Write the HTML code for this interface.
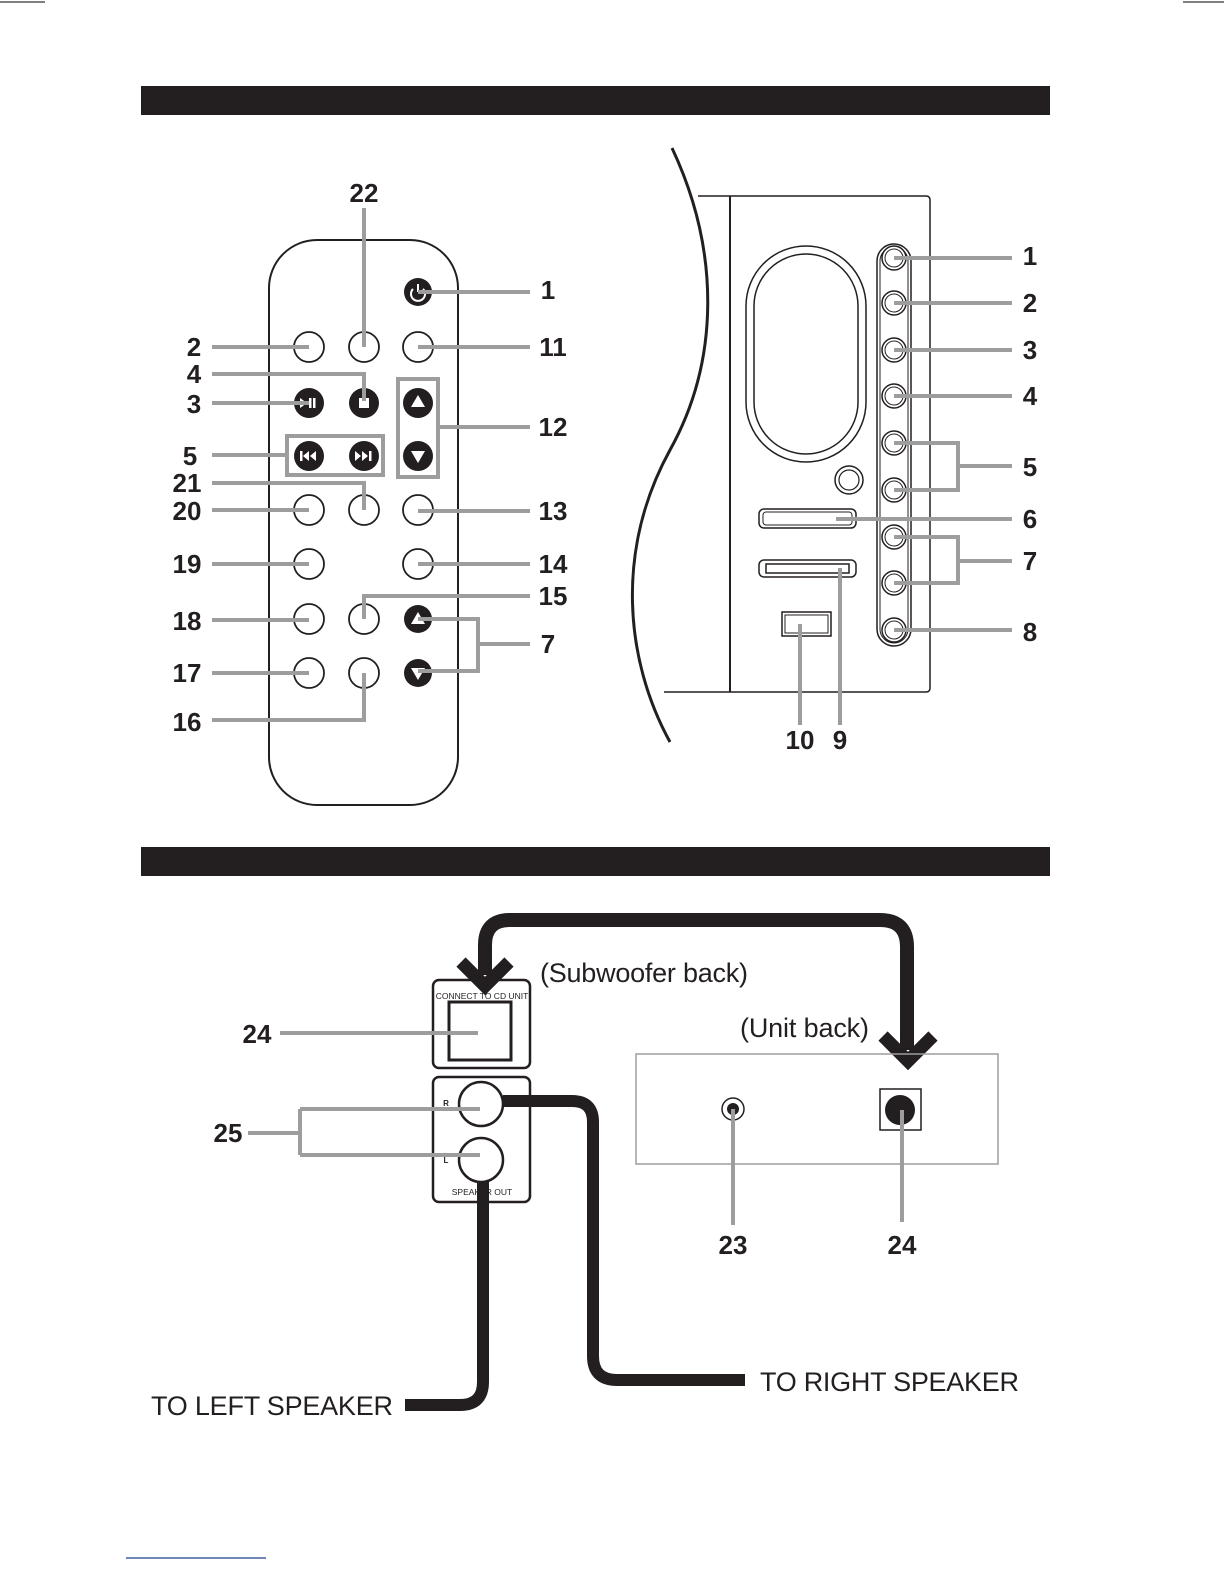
<!DOCTYPE html>
<html><head><meta charset="utf-8"><style>
html,body{margin:0;padding:0;background:#fff}
svg{display:block}
.n{font-family:"Liberation Sans",sans-serif;font-weight:bold;font-size:26px;fill:#231f20;text-anchor:middle;dominant-baseline:central}
.t{font-family:"Liberation Sans",sans-serif;font-size:27px;fill:#231f20}
.g{stroke:#9d9d9d;stroke-width:4;fill:none}
</style></head><body>
<svg width="1224" height="1584" viewBox="0 0 1224 1584" xmlns="http://www.w3.org/2000/svg">
<line x1="0" y1="2" x2="45" y2="2" stroke="#000" stroke-width="1"/>
<line x1="1183" y1="2" x2="1224" y2="2" stroke="#000" stroke-width="1"/>
<line x1="126" y1="1558" x2="266" y2="1558" stroke="#4060a0" stroke-width="1.5"/>
<rect x="141" y="86" width="909" height="29" fill="#231f20"/>
<rect x="141" y="847" width="909" height="29" fill="#231f20"/>

<!-- remote -->
<rect x="269" y="240" width="189" height="565" rx="48" fill="none" stroke="#231f20" stroke-width="2"/>
<g fill="none" stroke="#231f20" stroke-width="1.8">
<circle cx="309" cy="347" r="15"/><circle cx="364" cy="347" r="15"/><circle cx="418" cy="347" r="15"/>
<circle cx="309" cy="510" r="15"/><circle cx="364" cy="510" r="15"/><circle cx="418" cy="510" r="15"/>
<circle cx="309" cy="564" r="15"/><circle cx="418" cy="564" r="15"/>
<circle cx="309" cy="619" r="15"/><circle cx="364" cy="619" r="15"/>
<circle cx="309" cy="673" r="15"/><circle cx="364" cy="673" r="15"/>
</g>
<g fill="#231f20">
<circle cx="418" cy="292" r="14"/>
<circle cx="309" cy="403" r="15"/><circle cx="364" cy="403" r="15"/><circle cx="418" cy="403" r="15"/>
<circle cx="309" cy="456" r="15"/><circle cx="364" cy="456" r="15"/><circle cx="418" cy="456" r="15"/>
<circle cx="418" cy="619" r="14"/><circle cx="418" cy="673" r="14"/>
</g>
<g fill="#fff">
<rect x="359" y="398" width="10" height="10"/>
<polygon points="418,395 425,407 411,407"/><polygon points="418,463 425,451 411,451"/>
<polygon points="418,612 425,624 411,624"/><polygon points="418,680 425,668 411,668"/>
<polygon points="300,398 307,403 300,408"/><rect x="309" y="398" width="2.5" height="10"/><rect x="313" y="398" width="2.5" height="10"/>
<rect x="300" y="451" width="2.5" height="10"/><polygon points="309,451 303,456 309,461"/><polygon points="316,451 310,456 316,461"/>
<polygon points="355,451 361,456 355,461"/><polygon points="362,451 368,456 362,461"/><rect x="369" y="451" width="2.5" height="10"/>
</g>
<path d="M413,289 A7,7 0 1 0 423,289" fill="none" stroke="#fff" stroke-width="2"/><line x1="418" y1="284" x2="418" y2="292" stroke="#fff" stroke-width="2"/>
<g class="g">
<path d="M364,208 V347"/><path d="M418,292 H530"/><path d="M212,347 H309"/><path d="M418,347 H530"/>
<path d="M212,374 H364 V401"/><path d="M212,403 H309"/>
<rect x="398" y="379" width="40" height="98"/><path d="M438,427 H530"/>
<rect x="287" y="436" width="96" height="39"/><path d="M212,455 H287"/>
<path d="M212,483 H364 V510"/><path d="M212,510 H309"/><path d="M418,511 H530"/>
<path d="M212,564 H309"/><path d="M418,564 H530"/>
<path d="M530,596 H364 V619"/><path d="M212,620 H309"/>
<path d="M418,619 H478 V671 H418"/><path d="M478,644 H530"/>
<path d="M212,673 H309"/><path d="M212,720 H364 V673"/>
</g>
<text class="n" x="364" y="193">22</text><text class="n" x="548" y="290">1</text>
<text class="n" x="194" y="347">2</text><text class="n" x="553" y="347">11</text>
<text class="n" x="194" y="374">4</text><text class="n" x="194" y="404">3</text>
<text class="n" x="553" y="427">12</text><text class="n" x="190" y="456">5</text>
<text class="n" x="187" y="483">21</text><text class="n" x="187" y="511">20</text><text class="n" x="553" y="511">13</text>
<text class="n" x="187" y="564">19</text><text class="n" x="553" y="564">14</text>
<text class="n" x="553" y="596">15</text><text class="n" x="187" y="621">18</text>
<text class="n" x="548" y="644">7</text><text class="n" x="187" y="673">17</text><text class="n" x="187" y="722">16</text>

<!-- unit -->
<path d="M698,196 H926 Q930,196 930,200 V688 Q930,692 926,692 H664" fill="none" stroke="#231f20" stroke-width="1.5"/>
<line x1="730" y1="196" x2="730" y2="692" stroke="#231f20" stroke-width="2"/>
<path d="M672,148 C720,250 720,360 670,450 C615,550 625,660 670,742" fill="none" stroke="#231f20" stroke-width="3"/>
<rect x="746" y="246" width="120" height="216" rx="60" fill="none" stroke="#231f20" stroke-width="1.5"/>
<rect x="754" y="254" width="104" height="200" rx="52" fill="none" stroke="#231f20" stroke-width="1.5"/>
<circle cx="849" cy="480" r="14" fill="none" stroke="#231f20" stroke-width="1.5"/><circle cx="849" cy="480" r="10" fill="none" stroke="#231f20" stroke-width="1.2"/>
<rect x="759" y="509" width="97" height="19" rx="5" fill="none" stroke="#231f20" stroke-width="1.5"/><rect x="763" y="512" width="89" height="13" rx="3" fill="none" stroke="#231f20" stroke-width="1"/>
<rect x="759" y="560" width="97" height="17" rx="5" fill="none" stroke="#231f20" stroke-width="1.5"/><rect x="766" y="564" width="83" height="9" fill="none" stroke="#231f20" stroke-width="1.5"/>
<rect x="782" y="612" width="49" height="24" fill="none" stroke="#231f20" stroke-width="1.5"/><rect x="785" y="615" width="43" height="18" fill="none" stroke="#231f20" stroke-width="1"/>
<rect x="877" y="244" width="34" height="402" rx="17" fill="none" stroke="#231f20" stroke-width="1.5"/><rect x="880" y="247" width="28" height="396" rx="14" fill="none" stroke="#231f20" stroke-width="1"/>
<g fill="#fff" stroke="#231f20" stroke-width="1.5">
<circle cx="894" cy="258" r="12"/><circle cx="894" cy="303" r="12"/><circle cx="894" cy="350" r="12"/><circle cx="894" cy="396" r="12"/><circle cx="894" cy="443" r="12"/><circle cx="894" cy="490" r="12"/><circle cx="894" cy="537" r="12"/><circle cx="894" cy="583" r="12"/><circle cx="894" cy="630" r="12"/>
</g>
<g fill="none" stroke="#231f20" stroke-width="1">
<circle cx="894" cy="258" r="9"/><circle cx="894" cy="303" r="9"/><circle cx="894" cy="350" r="9"/><circle cx="894" cy="396" r="9"/><circle cx="894" cy="443" r="9"/><circle cx="894" cy="490" r="9"/><circle cx="894" cy="537" r="9"/><circle cx="894" cy="583" r="9"/><circle cx="894" cy="630" r="9"/>
</g>
<g class="g">
<path d="M894,258 H1012"/><path d="M894,303 H1012"/><path d="M894,350 H1012"/><path d="M894,396 H1012"/>
<path d="M894,443 H958 V490 H894"/><path d="M958,466 H1012"/>
<path d="M836,519 H1012"/>
<path d="M894,537 H958 V583 H894"/><path d="M958,561 H1012"/>
<path d="M894,630 H1012"/>
<path d="M840,568 V725"/><path d="M800,624 V725"/>
</g>
<text class="n" x="1030" y="256">1</text><text class="n" x="1030" y="303">2</text><text class="n" x="1030" y="350">3</text><text class="n" x="1030" y="396">4</text>
<text class="n" x="1030" y="467">5</text><text class="n" x="1030" y="519">6</text><text class="n" x="1030" y="561">7</text><text class="n" x="1030" y="632">8</text>
<text class="n" x="800" y="740">10</text><text class="n" x="840" y="740">9</text>

<!-- bottom -->
<path d="M485,975 V945 Q485,920 510,920 H880 Q907,920 907,947 V1050" fill="none" stroke="#231f20" stroke-width="14"/>
<path d="M461,962 L485,986 L509,962" fill="none" stroke="#231f20" stroke-width="13"/>
<path d="M883,1036 L908,1061 L933,1036" fill="none" stroke="#231f20" stroke-width="13"/>
<rect x="433" y="980" width="97" height="88" rx="6" fill="none" stroke="#231f20" stroke-width="2.5"/>
<rect x="449" y="1002" width="62" height="58" fill="none" stroke="#231f20" stroke-width="3"/>
<text x="482" y="999" font-family="Liberation Sans,sans-serif" font-size="8.5" text-anchor="middle" fill="#231f20">CONNECT TO CD UNIT</text>
<rect x="433" y="1077" width="97" height="125" rx="6" fill="none" stroke="#231f20" stroke-width="2.5"/>
<circle cx="481" cy="1104" r="22" fill="none" stroke="#231f20" stroke-width="2.5"/>
<circle cx="481" cy="1160" r="22" fill="none" stroke="#231f20" stroke-width="2.5"/>
<text x="446" y="1106" font-family="Liberation Sans,sans-serif" font-size="8" font-weight="bold" text-anchor="middle" fill="#231f20">R</text>
<text x="446" y="1163" font-family="Liberation Sans,sans-serif" font-size="8" font-weight="bold" text-anchor="middle" fill="#231f20">L</text>
<text x="482" y="1195" font-family="Liberation Sans,sans-serif" font-size="8.5" text-anchor="middle" fill="#231f20">SPEAKER OUT</text>
<path d="M503,1101 H572 Q593,1101 593,1122 V1356 Q593,1380 617,1380 H745" fill="none" stroke="#231f20" stroke-width="12"/>
<path d="M483,1182 V1382 Q483,1405 460,1405 H405" fill="none" stroke="#231f20" stroke-width="12"/>
<g class="g">
<path d="M280,1033 H478"/><path d="M300,1109 H480"/><path d="M300,1155 H480"/><path d="M300,1109 V1155"/><path d="M248,1133 H300"/>
</g>
<rect x="636" y="1054" width="362" height="110" fill="none" stroke="#9d9d9d" stroke-width="1.5"/>
<circle cx="733" cy="1109" r="11" fill="none" stroke="#231f20" stroke-width="1.5"/><circle cx="733" cy="1109" r="6" fill="#231f20"/>
<rect x="880" y="1089" width="41" height="41" fill="none" stroke="#231f20" stroke-width="1.5"/><circle cx="900" cy="1110" r="15" fill="#231f20"/>
<g class="g"><path d="M733,1109 V1225"/><path d="M902,1110 V1222"/></g>
<text class="n" x="257" y="1034">24</text><text class="n" x="228" y="1133">25</text>
<text class="n" x="733" y="1245">23</text><text class="n" x="902" y="1245">24</text>
<text class="t" x="540" y="982" textLength="208">(Subwoofer back)</text>
<text class="t" x="740" y="1037" textLength="129">(Unit back)</text>
<text class="t" x="760" y="1391" textLength="259">TO RIGHT SPEAKER</text>
<text class="t" x="151" y="1415" textLength="242">TO LEFT SPEAKER</text>
</svg>
</body></html>
